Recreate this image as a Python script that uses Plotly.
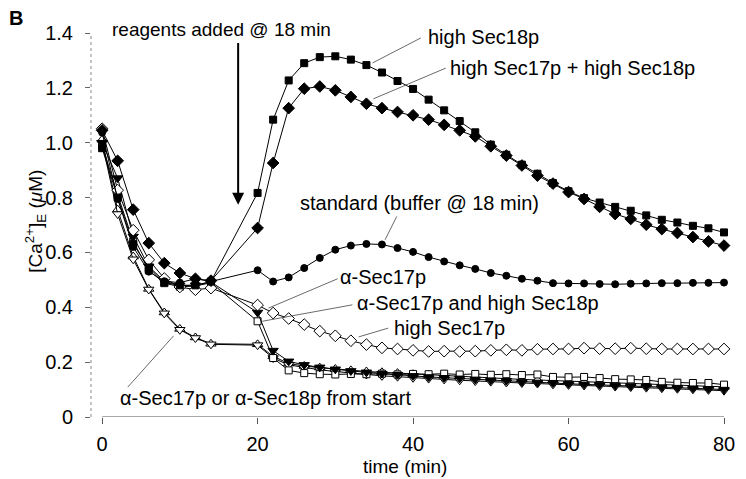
import plotly.graph_objects as go

# ---------------- data ----------------
time_min = [0, 2, 4, 6, 8, 10, 12, 14,
            20, 22, 24, 26, 28, 30, 32, 34, 36, 38, 40, 42, 44, 46, 48, 50,
            52, 54, 56, 58, 60, 62, 64, 66, 68, 70, 72, 74, 76, 78, 80]

high_sec18p = [0.98, 0.80, 0.63, 0.545, 0.49, 0.48, 0.48, 0.494,
               0.817, 1.084, 1.227, 1.290, 1.312, 1.315, 1.303, 1.283, 1.256, 1.225, 1.196,
               1.157, 1.118, 1.079, 1.038, 0.993, 0.956, 0.920, 0.887, 0.853, 0.823, 0.798,
               0.782, 0.766, 0.752, 0.735, 0.719, 0.709, 0.697, 0.688, 0.673]

high_sec17p_sec18p = [1.045, 0.934, 0.756, 0.634, 0.561, 0.525, 0.504, 0.497,
                      0.689, 0.926, 1.126, 1.197, 1.205, 1.191, 1.167, 1.142, 1.126, 1.112, 1.100,
                      1.084, 1.065, 1.045, 1.023, 0.987, 0.953, 0.917, 0.880, 0.851, 0.820, 0.795,
                      0.766, 0.740, 0.722, 0.701, 0.685, 0.671, 0.656, 0.640, 0.625]

standard = [1.037, 0.795, 0.62, 0.53, 0.495, 0.49, 0.504, 0.494,
            0.535, 0.494, 0.509, 0.543, 0.580, 0.610, 0.625, 0.631, 0.629, 0.616, 0.602,
            0.583, 0.567, 0.553, 0.540, 0.525, 0.515, 0.504, 0.497, 0.488, 0.487, 0.487,
            0.485, 0.484, 0.486, 0.487, 0.488, 0.488, 0.489, 0.489, 0.490]

anti_sec17p = [1.00, 0.871, 0.658, 0.549, 0.495, 0.48, 0.48, 0.492,
               0.381, 0.242, 0.203, 0.190, 0.181, 0.174, 0.168, 0.163, 0.158, 0.154, 0.150,
               0.146, 0.143, 0.141, 0.137, 0.134, 0.132, 0.128, 0.126, 0.124, 0.121, 0.119,
               0.118, 0.115, 0.113, 0.112, 0.109, 0.107, 0.105, 0.103, 0.100]

anti_sec17p_high_sec18p = [0.99, 0.81, 0.64, 0.535, 0.488, 0.475, 0.477, 0.49,
                           0.349, 0.215, 0.170, 0.160, 0.156, 0.155, 0.157, 0.156, 0.158, 0.155, 0.157,
                           0.156, 0.158, 0.155, 0.157, 0.154, 0.156, 0.153, 0.155, 0.146, 0.145, 0.146,
                           0.142, 0.138, 0.137, 0.135, 0.128, 0.125, 0.124, 0.124, 0.118]

high_sec17p = [1.051, 0.827, 0.681, 0.573, 0.505, 0.474, 0.464, 0.470,
               0.408, 0.379, 0.359, 0.337, 0.313, 0.296, 0.278, 0.264, 0.252, 0.248, 0.243,
               0.239, 0.240, 0.239, 0.240, 0.243, 0.245, 0.243, 0.247, 0.248, 0.248, 0.251,
               0.249, 0.249, 0.251, 0.249, 0.248, 0.248, 0.248, 0.248, 0.248]

anti_sec17p_start = [1.011, 0.756, 0.585, 0.467, 0.381, 0.321, 0.290, 0.267,
                     0.265, 0.221, 0.195, 0.186, 0.180, 0.175, 0.170, 0.166, 0.163, 0.160, 0.156,
                     0.153, 0.150, 0.148, 0.145, 0.142, 0.140, 0.137, 0.135, 0.133, 0.130, 0.128,
                     0.127, 0.124, 0.122, 0.121, 0.118, 0.116, 0.115, 0.113, 0.110]

anti_sec18p_start = [1.00, 0.74, 0.575, 0.465, 0.378, 0.318, 0.288, 0.265,
                     0.262, 0.215, 0.190, 0.180, 0.172, 0.166, 0.160, 0.155, 0.150, 0.147, 0.143,
                     0.140, 0.137, 0.134, 0.131, 0.129, 0.126, 0.124, 0.122, 0.119, 0.117, 0.115,
                     0.113, 0.111, 0.109, 0.107, 0.105, 0.103, 0.101, 0.099, 0.096]

x_ticks = [0, 20, 40, 60, 80]
y_ticks = [0, 0.2, 0.4, 0.6, 0.8, 1.0, 1.2, 1.4]
y_tick_labels = ["0", "0.2", "0.4", "0.6", "0.8", "1.0", "1.2", "1.4"]

FONT = "Liberation Sans, Arial, Helvetica, sans-serif"
X_MIN, X_MAX = -1.43, 80
Y_MIN, Y_MAX = 0, 1.4

# series: (values, marker symbol, fill, size)
series = [
    (anti_sec17p_start, "triangle-up", "white", 9),
    (anti_sec18p_start, "triangle-down", "white", 9),
    (anti_sec17p_high_sec18p, "square", "white", 7),
    (anti_sec17p, "triangle-down", "black", 9),
    (high_sec17p, "diamond", "white", 9),
    (standard, "circle", "black", 7),
    (high_sec17p_sec18p, "diamond", "black", 9),
    (high_sec18p, "square", "black", 7),
]

fig = go.Figure()
for vals, sym, fill, size in series:
    fig.add_trace(go.Scatter(
        x=time_min, y=vals, mode="lines+markers",
        line=dict(color="black", width=1),
        marker=dict(symbol=sym, size=size, color=fill,
                    line=dict(color="black", width=1)),
        showlegend=False, cliponaxis=False,
    ))

# axis lines
fig.add_shape(type="line", xref="x", yref="y", x0=0, x1=80, y0=0, y1=0,
              line=dict(color="#555555", width=1))
fig.add_shape(type="line", xref="paper", yref="y", x0=0, x1=0, y0=0, y1=1.4,
              line=dict(color="#888888", width=1, dash="dot"))

# labels with leader lines: (text, text_x, text_y, line x0, y0, x1, y1)
labels = [
    ("high Sec18p", 41.6, 1.386, 41.0, 1.382, 34.8, 1.291),
    ("high Sec17p + high Sec18p", 44.5, 1.273, 44.2, 1.272, 34.9, 1.160),
    ("standard (buffer @ 18 min)", 25.2, 0.781, 37.9, 0.731, 36.4, 0.646),
    ("α-Sec17p", 30.4, 0.512, 30.3, 0.504, 21.4, 0.397),
    ("α-Sec17p and high Sec18p", 32.5, 0.417, 32.2, 0.409, 20.6, 0.349),
    ("high Sec17p", 37.3, 0.326, 36.8, 0.324, 33.0, 0.292),
    ("α-Sec17p or α-Sec18p from start", 2.0, 0.070, 3.3, 0.109, 9.2, 0.296),
]
for text, tx, ty, lx0, ly0, lx1, ly1 in labels:
    fig.add_shape(type="line", xref="x", yref="y", x0=lx0, y0=ly0, x1=lx1, y1=ly1,
                  line=dict(color="#444444", width=0.8))
    fig.add_annotation(x=tx, y=ty, xref="x", yref="y", text=text, showarrow=False,
                       xanchor="left", yanchor="middle",
                       font=dict(family=FONT, size=20, color="black"))

# reagents text (placed in paper coords since it sits above the y range)
fig.add_annotation(x=(1.0 - X_MIN) / (X_MAX - X_MIN), y=1.412 / Y_MAX,
                   xref="paper", yref="paper", text="reagents added @ 18 min",
                   showarrow=False, xanchor="left", yanchor="middle",
                   font=dict(family=FONT, size=19, color="black"))
fig.add_annotation(x=17.5, y=0.774, ax=17.5, ay=1.369, xref="x", yref="y",
                   axref="x", ayref="y", text="", showarrow=True,
                   arrowhead=2, arrowsize=1.2, arrowwidth=2, arrowcolor="black")

# panel letter
fig.add_annotation(x=-0.118, y=1.04, xref="paper", yref="paper", text="<b>B</b>",
                   showarrow=False, xanchor="center", yanchor="middle",
                   font=dict(family=FONT, size=20, color="black"))

# axis titles
fig.add_annotation(x=-0.087, y=0.511, xref="paper", yref="paper",
                   text="[Ca<sup>2+</sup>]<sub>E</sub> (<i>μ</i>M)", textangle=-90,
                   showarrow=False, xanchor="center", yanchor="middle",
                   font=dict(family=FONT, size=19, color="black"))
fig.add_annotation(x=0.565, y=-0.128, xref="paper", yref="paper", text="time (min)",
                   showarrow=False, xanchor="right", yanchor="middle",
                   font=dict(family=FONT, size=19, color="black"))

fig.update_layout(
    width=746, height=479,
    margin=dict(l=91, r=11, t=33, b=62),
    paper_bgcolor="white", plot_bgcolor="white",
    font=dict(family=FONT, size=20, color="black"),
    xaxis=dict(range=[X_MIN, X_MAX], tickvals=x_ticks, ticks="outside", ticklen=6,
               tickcolor="#555555", showline=False, showgrid=False, zeroline=False,
               tickfont=dict(family=FONT, size=20), ticklabelstandoff=3,
               ticklabeloverflow="allow"),
    yaxis=dict(range=[Y_MIN, Y_MAX], tickvals=y_ticks, ticktext=y_tick_labels,
               ticks="outside", ticklen=5, tickcolor="#666666", showline=False,
               showgrid=False, zeroline=False,
               tickfont=dict(family=FONT, size=20), ticklabelstandoff=8),
)

fig.write_html("out.html")
